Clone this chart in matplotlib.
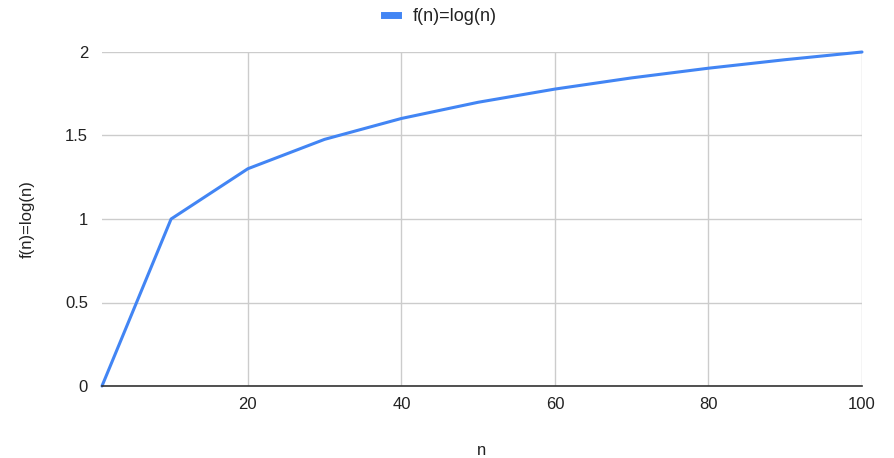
import matplotlib
matplotlib.use("Agg")
import matplotlib.pyplot as plt
from matplotlib.lines import Line2D

plt.rcParams['font.family'] = ['Liberation Sans', 'DejaVu Sans']

n_values = [1, 10, 20, 30, 40, 50, 60, 70, 80, 90, 100]
f_values = [0, 1.0, 1.301, 1.477, 1.602, 1.699, 1.778, 1.845, 1.903, 1.954, 2.0]
x_ticks = [20, 40, 60, 80, 100]
y_ticks = [0, 0.5, 1, 1.5, 2]
y_tick_labels = ['0', '0.5', '1', '1.5', '2']
series_label = 'f(n)=log(n)'

fig = plt.figure(figsize=(8.95, 4.58), dpi=100)
ax = fig.add_axes([102/895, 1-386/458, (862-102)/895, (386-52)/458])

ax.plot(n_values, f_values, color='#4285F4', linewidth=2.2, solid_capstyle='round', zorder=3, clip_on=False)

ax.set_xlim(1, 100)
ax.set_ylim(0, 2)
ax.set_xticks(x_ticks)
ax.set_yticks(y_ticks)
ax.set_yticklabels(y_tick_labels)
ax.grid(True, color='#cccccc', linewidth=1)
ax.set_axisbelow(True)
for s in ['left', 'top', 'right']:
    ax.spines[s].set_visible(False)
ax.spines['bottom'].set_color('#333333')
ax.spines['bottom'].set_linewidth(1.2)
ax.spines['bottom'].set_zorder(4)
ax.tick_params(axis='both', length=0, labelsize=12, colors='#222222', pad=8)
ax.tick_params(axis='y', pad=10)

ax.set_xlabel('n', fontsize=12, color='#222222', labelpad=22)
ax.set_ylabel('f(n)=log(n)', fontsize=12, color='#222222', labelpad=22)

handle = Line2D([0], [0], color='#4285F4', linewidth=5)
fig.legend([handle], [series_label], loc='upper center', bbox_to_anchor=(0.492, 1.018),
           frameon=False, fontsize=13, handlelength=0.8, handletextpad=0.8,
           labelcolor='#222222')

fig.savefig('out.png', dpi=100)
